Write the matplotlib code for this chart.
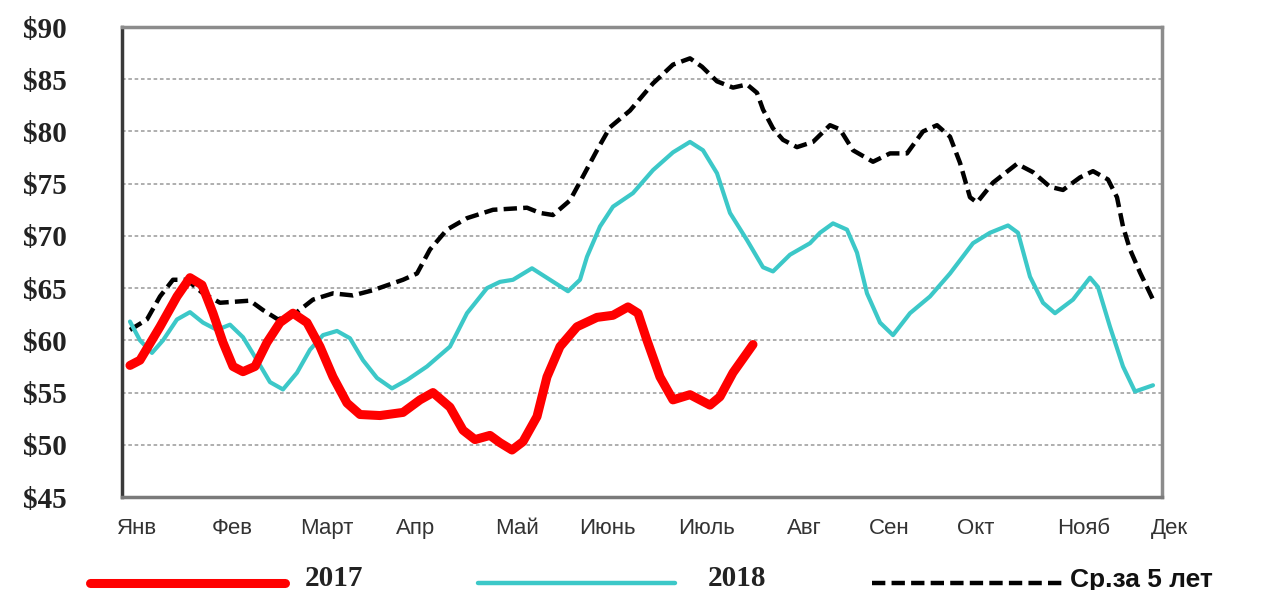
import matplotlib.pyplot as plt
from matplotlib.lines import Line2D

# ось X в неделях от начала года (0..52)
months = ['Янв', 'Фев', 'Март', 'Апр', 'Май', 'Июнь', 'Июль',
          'Авг', 'Сен', 'Окт', 'Нояб', 'Дек']
month_pos = [0.75, 5.5, 10.25, 14.7, 19.75, 24.25, 29.25,
             34.1, 38.35, 42.7, 48.1, 52.35]

x_2017 = [0.4, 0.9, 1.9, 2.75, 3.4, 4.0, 4.55, 5.05, 5.55, 6.05, 6.65, 7.25,
          7.9, 8.55, 9.25, 9.9, 10.55, 11.25, 11.9, 12.9, 14.05, 14.9, 15.55,
          16.4, 17.05, 17.65, 18.4, 18.9, 19.5, 20.05, 20.75, 21.25, 21.9,
          22.75, 23.75, 24.55, 25.3, 25.8, 26.25, 26.9, 27.55, 28.4, 29.4,
          29.9, 30.55, 31.55]
y_2017 = [57.6, 58.1, 61.3, 64.2, 66.0, 65.3, 62.6, 59.8, 57.5, 57.0, 57.5, 59.8,
          61.7, 62.6, 61.7, 59.4, 56.5, 54.0, 52.9, 52.8, 53.1, 54.3, 55.0,
          53.6, 51.4, 50.5, 50.9, 50.2, 49.5, 50.3, 52.7, 56.5, 59.4,
          61.3, 62.2, 62.4, 63.2, 62.6, 60.0, 56.5, 54.3, 54.8, 53.8,
          54.6, 56.9, 59.6]

x_2018 = [0.4, 0.9, 1.5, 2.05, 2.75, 3.4, 4.05, 4.75, 5.4, 6.05, 6.75, 7.4,
          8.05, 8.75, 9.4, 10.05, 10.75, 11.4, 12.05, 12.75, 13.5, 14.25,
          15.25, 16.4, 17.25, 18.25, 18.9, 19.55, 20.5, 21.4, 22.3, 22.9,
          23.25, 23.9, 24.55, 25.55, 26.55, 27.55, 28.4, 29.05, 29.75, 30.4,
          31.25, 32.05, 32.55, 33.4, 34.4, 34.9, 35.55, 36.25, 36.75, 37.25,
          37.9, 38.55, 39.4, 40.4, 41.4, 42.55, 43.4, 44.3, 44.8, 45.4,
          46.05, 46.65, 47.55, 48.4, 48.8, 49.4, 50.05, 50.65, 51.55]
y_2018 = [61.8, 60.0, 58.8, 60.0, 62.0, 62.7, 61.7, 61.0, 61.5, 60.3, 58.1, 56.0,
          55.3, 56.9, 59.1, 60.5, 60.9, 60.2, 58.1, 56.4, 55.4, 56.2,
          57.5, 59.4, 62.6, 65.0, 65.6, 65.8, 66.9, 65.8, 64.7, 65.8,
          68.0, 70.9, 72.8, 74.1, 76.3, 78.0, 79.0, 78.2, 76.0, 72.2,
          69.6, 67.0, 66.6, 68.2, 69.3, 70.3, 71.2, 70.6, 68.4, 64.5,
          61.7, 60.5, 62.6, 64.2, 66.4, 69.3, 70.3, 71.0, 70.3, 66.1,
          63.6, 62.6, 63.9, 66.0, 65.1, 61.3, 57.5, 55.1, 55.7]

x_avg = [0.4, 1.25, 1.9, 2.55, 3.25, 4.05, 4.9, 6.4, 7.05, 7.8, 8.75, 9.55,
         10.55, 11.55, 12.55, 14.05, 14.75, 15.4, 16.25, 17.25, 18.55, 20.25,
         20.9, 21.55, 22.4, 23.05, 23.75, 24.4, 25.4, 26.55, 27.55, 28.4,
         29.0, 29.75, 30.55, 31.25, 31.75, 32.05, 32.55, 33.05, 33.75, 34.55,
         35.4, 35.9, 36.55, 37.55, 38.4, 39.25, 40.05, 40.75, 41.4, 41.9,
         42.4, 42.75, 43.55, 44.75, 45.55, 46.4, 47.05, 47.9, 48.55, 49.3,
         49.75, 50.05, 50.4, 50.9, 51.55]
y_avg = [61.0, 62.0, 64.2, 65.8, 65.8, 64.5, 63.6, 63.8, 62.9, 62.0, 62.7, 63.9,
         64.5, 64.3, 64.8, 65.8, 66.4, 68.7, 70.6, 71.7, 72.5, 72.7,
         72.2, 72.0, 73.4, 75.7, 78.2, 80.4, 82.0, 84.6, 86.4, 87.0,
         86.2, 84.8, 84.2, 84.5, 83.7, 82.1, 80.3, 79.2, 78.5, 79.0,
         80.6, 80.2, 78.2, 77.1, 77.9, 77.9, 80.0, 80.6, 79.5, 77.0,
         73.7, 73.2, 75.1, 76.9, 76.1, 74.7, 74.4, 75.6, 76.2, 75.4,
         73.7, 70.9, 68.7, 66.5, 63.9]

y_ticks = list(range(45, 95, 5))

red = '#ff0000'
cyan = '#3cc8c8'

fig = plt.figure(figsize=(12.68, 5.9), dpi=100)
ax = fig.add_axes([0.0962, 0.1576, 0.8202, 0.7966])

ax.plot(x_avg, y_avg, color='black', lw=3.2, dashes=(3, 1.4), zorder=3,
        dash_joinstyle='round')
ax.plot(x_2018, y_2018, color=cyan, lw=3.0, zorder=4,
        solid_capstyle='round', solid_joinstyle='round')
ax.plot(x_2017, y_2017, color=red, lw=6.5, zorder=5,
        solid_capstyle='round', solid_joinstyle='round')

ax.set_xlim(0, 52)
ax.set_ylim(45, 90)
ax.set_xticks([])
ax.set_yticks(y_ticks)
ax.set_yticklabels(['$' + str(v) for v in y_ticks],
                   family='Liberation Serif', fontsize=21, fontweight='bold',
                   color='#222222')
ax.tick_params(axis='y', length=0, pad=40)

# сетка
for v in y_ticks[1:-1]:
    ax.axhline(v, color='#a8a8a8', lw=1.3, dashes=(2, 1.5), zorder=1)

# рамка
ax.spines['left'].set_color('#3a3a3a')
ax.spines['bottom'].set_color('#7a7a7a')
ax.spines['top'].set_color('#8c8c8c')
ax.spines['right'].set_color('#8c8c8c')
for s in ax.spines.values():
    s.set_linewidth(2.5)

# подписи месяцев
for m, p in zip(months, month_pos):
    ax.text(p, -0.066, m, transform=ax.get_xaxis_transform(), ha='center',
            va='center', family='Liberation Sans', fontsize=16,
            color='#333333', clip_on=False)

# легенда внизу
ly = 1 - 583 / 590
fig.add_artist(Line2D([90 / 1268, 285 / 1268], [ly, ly], color=red, lw=6.5,
                      solid_capstyle='round'))
fig.text(305 / 1268, 1 - 579 / 590, '2017', family='Liberation Serif',
         fontsize=21, fontweight='bold', color='#222222', va='center')
fig.add_artist(Line2D([478 / 1268, 675 / 1268], [ly, ly], color=cyan, lw=3.2,
                      solid_capstyle='round'))
fig.text(708 / 1268, 1 - 579 / 590, '2018', family='Liberation Serif',
         fontsize=21, fontweight='bold', color='#222222', va='center')
fig.add_artist(Line2D([872 / 1268, 1066 / 1268], [ly, ly], color='black',
                      lw=3.2, dashes=(3, 1.4)))
fig.text(1070 / 1268, 1 - 580 / 590, 'Ср.за 5 лет', family='Liberation Sans',
         fontsize=19, fontweight='bold', color='#111111', va='center')

fig.savefig('out.png', dpi=100)
